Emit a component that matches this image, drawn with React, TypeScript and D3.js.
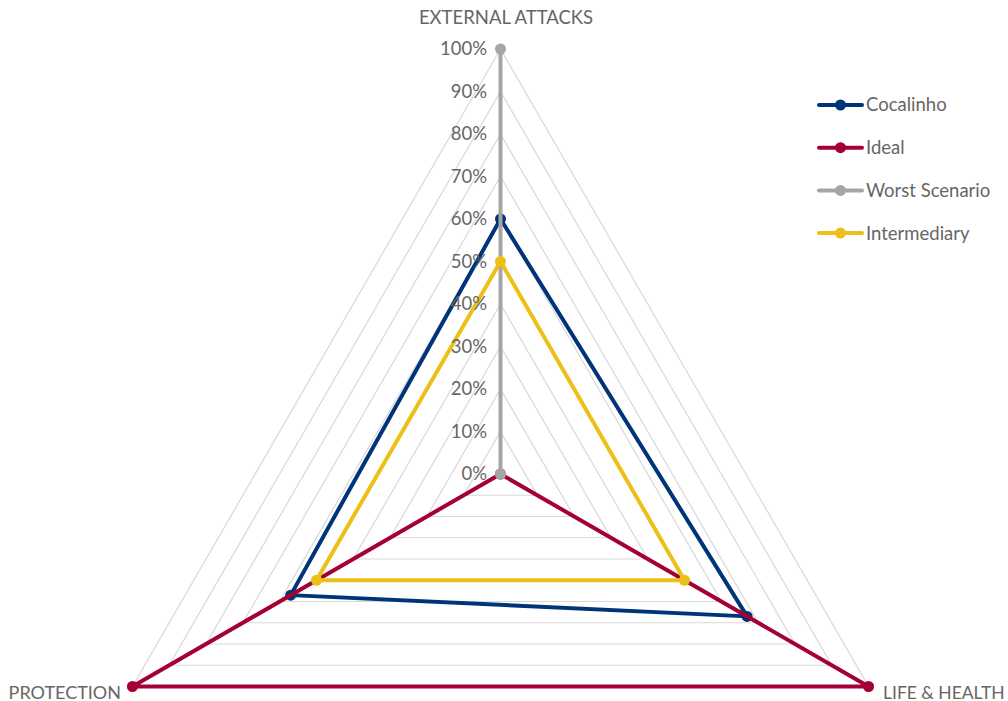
import React from "react";
import * as d3 from "d3";

const axes = ["EXTERNAL ATTACKS", "LIFE & HEALTH", "PROTECTION"];
const ticks = [0, 0.1, 0.2, 0.3, 0.4, 0.5, 0.6, 0.7, 0.8, 0.9, 1.0];
const seriesNames = ["Cocalinho", "Ideal", "Worst Scenario", "Intermediary"];
const cocalinho = [0.6, 0.67, 0.57];
const ideal = [0, 1, 1];
const worst = [1, 0, 0];
const intermediary = [0.5, 0.5, 0.5];
const seriesValues = [cocalinho, ideal, worst, intermediary];
const colors = ["#003479", "#A50034", "#A5A5A5", "#EDC018"];

export default function App() {
  const W = 1008, H = 701;
  const cx = 500.5, cy = 474;
  const r = d3.scaleLinear().domain([0, 1]).range([0, 425]);
  const angle = (i: number) => (i * 2 * Math.PI) / axes.length;
  const pt = (i: number, v: number): [number, number] => [
    cx + r(v) * Math.sin(angle(i)),
    cy - r(v) * Math.cos(angle(i)),
  ];
  const line = d3.line<[number, number]>().curve(d3.curveLinearClosed);
  const font = "Lato, sans-serif";
  const textColor = "#666666";
  const fs = 18.5;

  return (
    <svg width={W} height={H} style={{ position: "absolute", left: 0, top: 0 }}>
      <rect width={W} height={H} fill="#fff" />
      {ticks.slice(1).map((t) => (
        <path
          key={t}
          d={line(axes.map((_, i) => pt(i, t))) || ""}
          fill="none"
          stroke="#D9D9D9"
          strokeWidth={1.2}
        />
      ))}
      {seriesValues.map((vals, s) => (
        <g key={s}>
          <path
            d={line(vals.map((v, i) => pt(i, v))) || ""}
            fill="none"
            stroke={colors[s]}
            strokeWidth={4}
            strokeLinejoin="round"
          />
          {vals.map((v, i) => {
            const [x, y] = pt(i, v);
            return <circle key={i} cx={x} cy={y} r={5.5} fill={colors[s]} />;
          })}
        </g>
      ))}
      {ticks.map((t) => (
        <text
          key={t}
          x={487}
          y={cy - r(t)}
          dy="0.35em"
          textAnchor="end"
          fontFamily={font}
          fontSize={fs}
          fill={textColor}
        >
          {d3.format(".0%")(t)}
        </text>
      ))}
      <text x={506} y={18} dy="0.35em" textAnchor="middle" fontFamily={font} fontSize={fs} fill={textColor}>
        {axes[0]}
      </text>
      <text x={883} y={699} textAnchor="start" fontFamily={font} fontSize={17.5} fill={textColor}>
        {axes[1]}
      </text>
      <text x={121} y={699} textAnchor="end" fontFamily={font} fontSize={18} fill={textColor}>
        {axes[2]}
      </text>
      {seriesNames.map((name, s) => {
        const y = 105 + s * 42.7;
        return (
          <g key={name}>
            <line x1={819} x2={862} y1={y} y2={y} stroke={colors[s]} strokeWidth={4} strokeLinecap="round" />
            <circle cx={840.5} cy={y} r={5.5} fill={colors[s]} />
            <text x={866} y={y} dy="0.35em" fontFamily={font} fontSize={fs} fill={textColor}>
              {name}
            </text>
          </g>
        );
      })}
    </svg>
  );
}
